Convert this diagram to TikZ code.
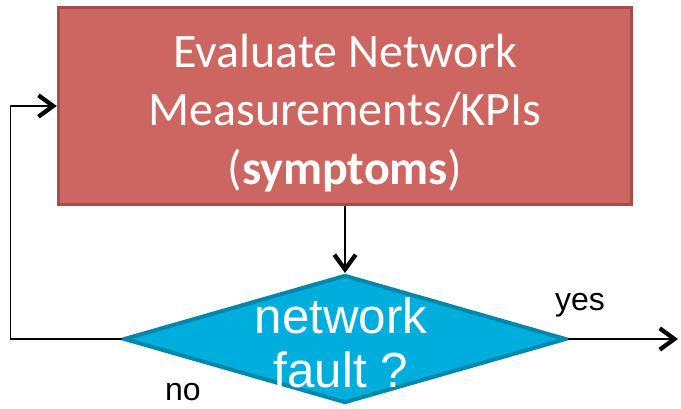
\documentclass[tikz,border=0pt]{standalone}
\usepackage{fontspec}
\setmainfont{Carlito}
\newfontfamily\arialfont{Liberation Sans}
\usepackage{tikz}
\usetikzlibrary{shapes.geometric,arrows.meta,positioning}

\definecolor{evalred}{RGB}{205,102,96}
\definecolor{evalborder}{RGB}{163,78,74}
\definecolor{faultblue}{RGB}{0,174,222}
\definecolor{faultborder}{RGB}{0,136,172}

\begin{document}
\begin{tikzpicture}[
x=0.75pt, y=-0.75pt,
evalbox/.style={
	draw=evalborder,
	fill=evalred,
	line width=2.3pt,
	rectangle,
	minimum width=430pt,
	minimum height=148pt,
	inner sep=0pt,
	align=center,
	text=white,
	font=\fontsize{36}{44}\selectfont
},
decision/.style={
	draw=faultborder,
	fill=faultblue,
	line width=3pt,
	diamond,
	minimum width=332pt,
	minimum height=96pt,
	inner sep=0pt
},
decisiontext/.style={
	align=center,
	text=white,
	inner sep=0pt,
	font=\arialfont\fontsize{37}{41}\selectfont
},
branch/.style={
	inner sep=0pt,
	font=\arialfont\fontsize{24}{26}\selectfont
},
flow/.style={
	line width=1.1pt,
	-{Straight Barb[length=11pt,width=16pt,line width=3.2pt]}
}
]
\useasboundingbox (0,0) rectangle (681,409);

\node[evalbox] (eval) at (345,106) {};
\node[evalbox, draw=none, fill=none] (evaltext) at (345,113)
{Evaluate Network\\Measurements/KPIs\\(\textbf{symptoms})};

\node[decision] (fault) at (345,339) {};
\node[decisiontext] (faultq) at (341,343) {network\\fault ?};

\node[branch] (yes) at (580,305) {yes};
\node[branch] (no) at (183,392) {no};

\coordinate (exit) at (678,339);

\draw[flow] (eval.south) -- (fault.north);
\draw[flow] (fault.west) -- ++(-111,0) |- (eval.west);
\draw[flow] (fault.east) -- (exit);

\end{tikzpicture}
\end{document}
